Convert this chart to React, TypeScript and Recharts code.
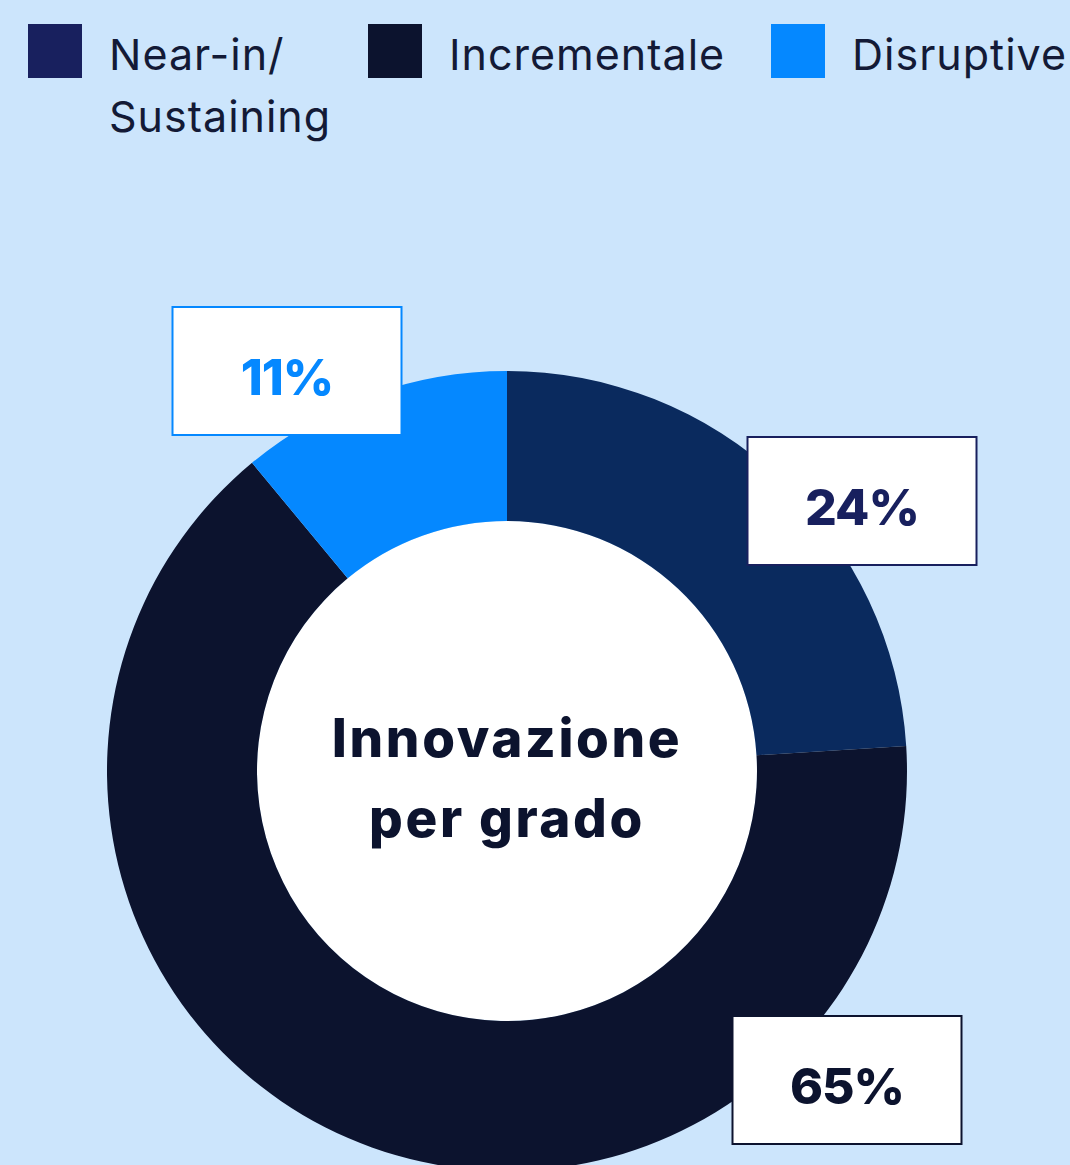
import { PieChart, Pie, Cell } from "recharts";

const CATEGORIES = ["Near-in/\nSustaining", "Incrementale", "Disruptive"];
const VALUES = [24, 65, 11];
const CENTER_TITLE = ["Innovazione", "per grado"];

const SLICE_COLORS = ["#0a2a5e", "#0c132e", "#0588ff"];
const LEGEND_COLORS = ["#18205e", "#0c132e", "#0588ff"];
const LABEL_COLORS = ["#18205e", "#0c132e", "#0588ff"];
// legend item left edges
const LEGEND_X = [28, 368, 771];
// offset of each label box centre from the pie centre
const LABEL_OFFSETS = [
  { dx: 355, dy: -270 },
  { dx: 340, dy: 309 },
  { dx: -220, dy: -400 },
];

const data = CATEGORIES.map((name, i) => ({ name, value: VALUES[i] }));
const innerData = [{ name: "inner", value: 1 }];

const BOX_W = 229;
const BOX_H = 128;

function renderLabel(props: any) {
  const { cx, cy, index, value } = props;
  const off = LABEL_OFFSETS[index];
  const x = cx + off.dx;
  const y = cy + off.dy;
  return (
    <g key={`lbl-${index}`}>
      <rect
        x={x - BOX_W / 2}
        y={y - BOX_H / 2}
        width={BOX_W}
        height={BOX_H}
        fill="#ffffff"
        stroke={LABEL_COLORS[index]}
        strokeWidth={2}
      />
      <text
        x={x}
        y={y + 24}
        textAnchor="middle"
        fill={LABEL_COLORS[index]}
        fontFamily="Inter"
        fontWeight={800}
        fontSize={50}
        letterSpacing={-1}
      >
        {`${value}%`}
      </text>
    </g>
  );
}

function renderCenter(props: any) {
  const { cx, cy } = props;
  return (
    <g key="center">
      {CENTER_TITLE.map((line, i) => (
        <text
          key={line}
          x={cx}
          y={cy - 14 + i * 80}
          textAnchor="middle"
          fill="#0c132e"
          fontFamily="Inter"
          fontWeight={800}
          fontSize={53}
          letterSpacing={2.6}
        >
          {line}
        </text>
      ))}
    </g>
  );
}

function ChartLegend() {
  return (
    <div
      style={{
        position: "absolute",
        left: 0,
        top: 23,
        width: 1070,
        fontFamily: "Inter",
        fontSize: 43,
        letterSpacing: 1,
        lineHeight: "62px",
        color: "#131a36",
      }}
    >
      {CATEGORIES.map((c, i) => (
        <div
          key={c}
          style={{
            position: "absolute",
            left: LEGEND_X[i],
            top: 0,
            display: "flex",
            alignItems: "flex-start",
          }}
        >
          <div
            style={{
              width: 54,
              height: 54,
              marginTop: 1,
              marginRight: 27,
              background: LEGEND_COLORS[i],
              flexShrink: 0,
            }}
          />
          <div style={{ whiteSpace: "pre" }}>{c}</div>
        </div>
      ))}
    </div>
  );
}

export default function App() {
  return (
    <div
      style={{
        position: "absolute",
        left: 0,
        top: 0,
        width: 1070,
        height: 1165,
        background: "#cce5fc",
        overflow: "hidden",
      }}
    >
      <PieChart width={1070} height={1165} margin={{ top: 0, right: 0, bottom: 0, left: 0 }}>
        <Pie
          data={innerData}
          dataKey="value"
          cx={507}
          cy={771}
          innerRadius={0}
          outerRadius={250}
          fill="#ffffff"
          stroke="none"
          legendType="none"
          label={renderCenter}
          labelLine={false}
          isAnimationActive={false}
        />
        <Pie
          data={data}
          dataKey="value"
          nameKey="name"
          cx={507}
          cy={771}
          innerRadius={250}
          outerRadius={400}
          startAngle={90}
          endAngle={-270}
          stroke="none"
          label={renderLabel}
          labelLine={false}
          isAnimationActive={false}
        >
          {data.map((d, i) => (
            <Cell key={d.name} fill={SLICE_COLORS[i]} />
          ))}
        </Pie>
      </PieChart>
      <ChartLegend />
    </div>
  );
}
